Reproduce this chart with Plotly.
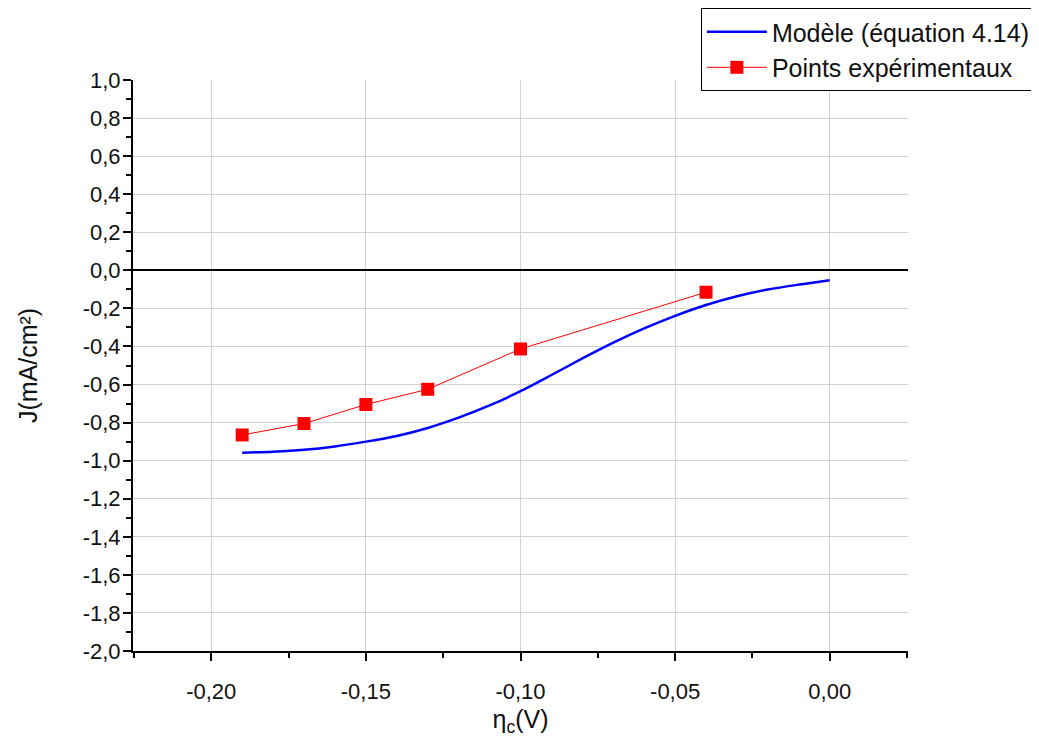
import plotly.graph_objects as go

# Model curve (équation 4.14)
model_x = [-0.19, -0.18, -0.17, -0.16, -0.15, -0.14, -0.13, -0.12, -0.11, -0.10,
           -0.09, -0.08, -0.07, -0.06, -0.05, -0.04, -0.03, -0.02, -0.01, 0.00]
model_y = [-0.958, -0.953, -0.943, -0.925, -0.90, -0.870, -0.828, -0.774, -0.71, -0.635,
           -0.55, -0.463, -0.38, -0.305, -0.239, -0.182, -0.136, -0.101, -0.075, -0.052]

# Experimental points
exp_x = [-0.19, -0.17, -0.15, -0.13, -0.10, -0.04]
exp_y = [-0.865, -0.805, -0.705, -0.625, -0.413, -0.115]

x_tickvals = [-0.20, -0.15, -0.10, -0.05, 0.00]
y_tickvals = [1.0, 0.8, 0.6, 0.4, 0.2, 0.0, -0.2, -0.4, -0.6, -0.8, -1.0,
              -1.2, -1.4, -1.6, -1.8, -2.0]


def fmt(v, nd):
    s = f"{v:.{nd}f}".replace(".", ",")
    if s.startswith("-") and float(s.replace(",", ".")) == 0:
        s = s[1:]
    return s


x_ticktext = [fmt(v, 2) for v in x_tickvals]
y_ticktext = [fmt(v, 1) for v in y_tickvals]

FONT = "Liberation Sans, Arial, sans-serif"
TXT = "#111111"

fig = go.Figure()
fig.add_trace(go.Scatter(
    x=model_x, y=model_y, mode="lines", name="Modèle (équation 4.14)",
    line=dict(color="#0000ff", width=2.5, shape="spline", smoothing=0.8),
))
fig.add_trace(go.Scatter(
    x=exp_x, y=exp_y, mode="lines+markers", name="Points expérimentaux",
    line=dict(color="#ff0000", width=1),
    marker=dict(symbol="square", size=13, color="#ff0000"),
))

# page body has an 8px margin: figure is sized so that it fills the 1039x745 window
fig.update_layout(
    width=1023, height=729,
    margin=dict(l=125, r=123, t=72, b=86, autoexpand=False),
    paper_bgcolor="white", plot_bgcolor="white",
    font=dict(family=FONT, size=22, color=TXT),
    showlegend=True,
    legend=dict(
        x=1.165, y=1.126, xanchor="right", yanchor="top",
        bordercolor="black", borderwidth=1, bgcolor="white",
        font=dict(family=FONT, size=25, color=TXT),
        tracegroupgap=0, itemwidth=60,
    ),
    xaxis=dict(
        range=[-0.2253, 0.0253],
        tickmode="array", tickvals=x_tickvals, ticktext=x_ticktext,
        showline=True, linecolor="black", linewidth=2,
        ticks="outside", ticklen=8, tickwidth=2, tickcolor="black",
        minor=dict(ticks="outside", ticklen=5, tickwidth=2, tickcolor="black",
                   dtick=0.025, tick0=0, showgrid=False),
        showgrid=True, gridcolor="#d3d3d3", gridwidth=1,
        zeroline=False,
        ticklabelstandoff=12,
        title=dict(text="η<sub>c</sub>(V)", font=dict(family=FONT, size=25, color=TXT),
                   standoff=10),
    ),
    yaxis=dict(
        range=[-2.0, 1.0],
        tickmode="array", tickvals=y_tickvals, ticktext=y_ticktext,
        showline=True, linecolor="black", linewidth=2,
        ticks="outside", ticklen=8, tickwidth=2, tickcolor="black",
        minor=dict(ticks="outside", ticklen=5, tickwidth=2, tickcolor="black",
                   dtick=0.1, tick0=0, showgrid=False),
        showgrid=True, gridcolor="#d3d3d3", gridwidth=1,
        zeroline=True, zerolinecolor="black", zerolinewidth=2,
        ticklabelstandoff=-2,
        title=dict(text="J(mA/cm²)", font=dict(family=FONT, size=25, color=TXT),
                   standoff=38),
    ),
)

fig.write_html("out.html")
